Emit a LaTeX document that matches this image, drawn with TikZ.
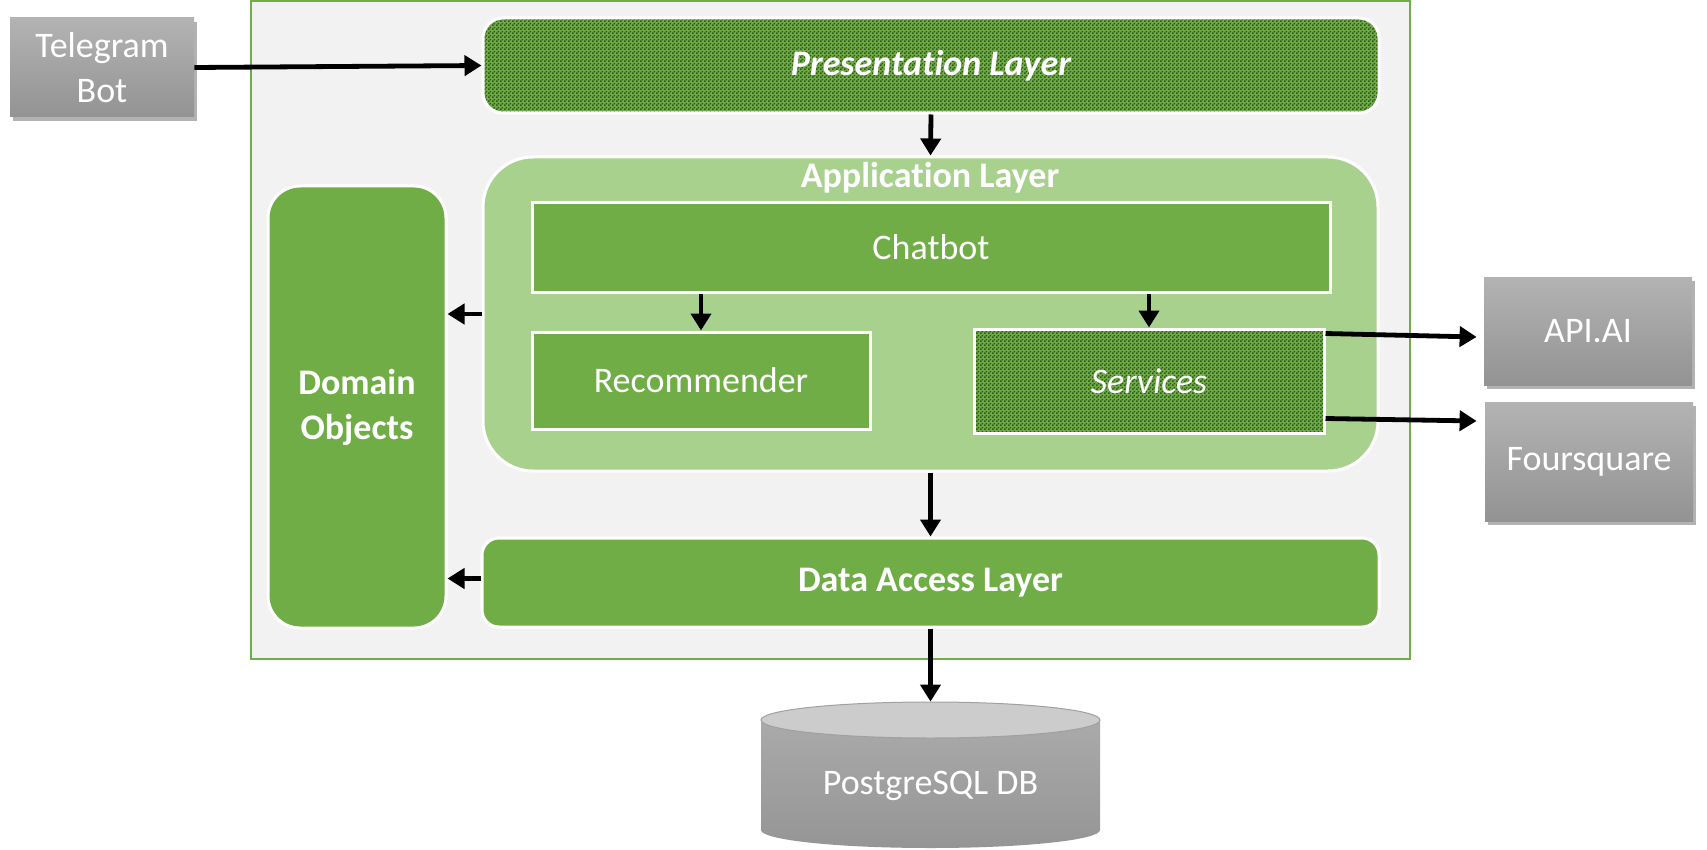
\documentclass[tikz,border=0pt]{standalone}
\usepackage{fontspec}
\setmainfont{Carlito}[RawFeature={-liga;-clig;-dlig;-rlig}]
\usetikzlibrary{arrows.meta,calc,shadows,patterns.meta}
\definecolor{gA}{HTML}{70AD47}
\definecolor{gL}{HTML}{A9D18E}
\definecolor{gD}{HTML}{2F561C}
\definecolor{bgF}{HTML}{F2F2F2}
\definecolor{grT}{HTML}{B3B3B3}
\definecolor{grB}{HTML}{939393}
\definecolor{cyT}{HTML}{AAAAAA}
\definecolor{cyB}{HTML}{959595}
\definecolor{cyTop}{HTML}{CCCCCC}
\definecolor{cyEdge}{HTML}{A0A0A0}
\tikzdeclarepattern{
  name=dither,
  type=uncolored,
  bounding box={(0pt,0pt) and (2pt,2pt)},
  tile size={(2pt,2pt)},
  code={\fill (0pt,0pt) rectangle (1pt,1pt); \fill (1pt,1pt) rectangle (2pt,2pt);}
}
\tikzset{
  lbl/.style={text=white, font=\fontsize{18}{22.5}\selectfont, align=center},
  box/.style={rectangle, draw=white, line width=1.5pt, inner sep=0pt, lbl},
  solidg/.style={box, fill=gA},
  pattg/.style={box, preaction={fill=gA}, preaction={pattern=dither, pattern color=gD}},
  graybox/.style={rectangle, draw=none, top color=grT, bottom color=grB, inner sep=0pt, lbl,
    drop shadow={shadow xshift=1.5pt, shadow yshift=-2pt, opacity=0.3, fill=black}},
  arr/.style={line width=2.4pt, -{Triangle[width=10pt,length=8.5pt]}},
}
\begin{document}
\begin{tikzpicture}[x=0.5pt,y=-0.5pt]
\useasboundingbox (0,0) rectangle (1707,850);
\fill[white] (0,0) rectangle (1707,850);

% outer container
\node[rectangle, draw=gA, line width=1pt, fill=bgF, minimum width=579.5pt, minimum height=329pt] (outer) at (830.5,330) {};

% external boxes
\node[graybox, minimum width=92pt, minimum height=49.5pt] (tg) at (102,67.5) {Telegram\\Bot};
\node[graybox, minimum width=104pt, minimum height=54pt] (api) at (1588,331) {API.AI};
\node[graybox, minimum width=104pt, minimum height=59.5pt] (four) at (1589,461.5) {Foursquare};

% layers
\node[pattg, rounded corners=10pt, minimum width=448pt, minimum height=47.5pt, font=\fontsize{18}{22.5}\selectfont\bfseries\itshape] (pres) at (931,65.5) {Presentat\kern0pt ion Layer};
\node[box, fill=gL, rounded corners=25pt, minimum width=447.5pt, minimum height=157pt] (app) at (930.5,314) {};
\node[lbl, font=\fontsize{18}{22.5}\selectfont\bfseries] (apptitle) at (930,178) {Applicat\kern0pt ion Layer};
\node[solidg, minimum width=399pt, minimum height=44.5pt] (chat) at (931,247.5) {Chatbot};
\node[solidg, minimum width=169pt, minimum height=48.5pt] (rec) at (701,380.5) {Recommender};
\node[pattg, minimum width=175pt, minimum height=52pt, font=\fontsize{18}{22.5}\selectfont\itshape] (serv) at (1149,381) {Services};
\node[solidg, rounded corners=16pt, minimum width=89pt, minimum height=221pt, font=\fontsize{18}{22.5}\selectfont\bfseries] (dom) at (357,407) {Domain\\Objects};
\node[solidg, rounded corners=8.5pt, minimum width=448.5pt, minimum height=44.5pt, font=\fontsize{18}{22.5}\selectfont\bfseries] (dal) at (930.5,582.5) {Data Access Layer};

% database cylinder
\shade[top color=cyT, bottom color=cyB] (761,720) -- (761,830) arc[start angle=180, end angle=360, x radius=84.75pt, y radius=9pt] -- (1100,720) -- cycle;
\filldraw[fill=cyTop, draw=cyEdge, line width=0.5pt] (930.5,720) ellipse [x radius=84.75pt, y radius=9pt];
\node[rectangle, minimum width=169.5pt, minimum height=73pt, inner sep=0pt] (db) at (930.5,775) {};
\node[lbl] (dbtext) at (930.5,786) {PostgreSQL DB};

% connectors
\draw[arr] (tg.east) -- (pres.west);
\draw[arr] (pres.south) -- (app.north);
\draw[arr] (app.west) -- (app.west -| dom.east);
\draw[arr] (rec.north |- chat.south) -- (rec.north);
\draw[arr] (serv.north |- chat.south) -- (serv.north);
\draw[arr] ($(serv.north east)+(0,6)$) -- ($(api.west)+(-7,6)$);
\draw[arr] ($(serv.south east)+(0,-16)$) -- ($(four.west)+(-8,-40.5)$);
\draw[arr] (app.south) -- (dal.north);
\draw[arr] ($(dal.west)+(0,-4)$) -- ($(dal.west -| dom.east)+(0,-4)$);
\draw[arr] (dal.south) -- (db.north);
\end{tikzpicture}
\end{document}
